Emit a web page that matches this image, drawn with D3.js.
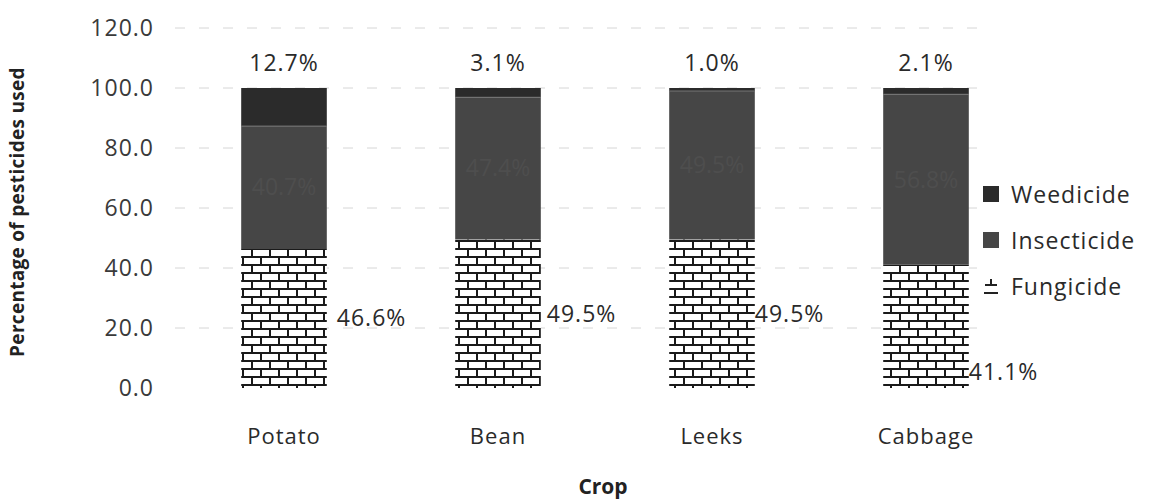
<!DOCTYPE html>
<html>
<head>
<meta charset="utf-8">
<script src="https://cdn.jsdelivr.net/npm/d3@7"></script>
<style>
  body { margin: 0; background: #fff; }
  text { font-family: "Open Sans", "Noto Sans", sans-serif; }
</style>
</head>
<body>
<div id="chart"></div>
<script>
// data
var crops = ["Potato", "Bean", "Leeks", "Cabbage"];
var fungicide = [46.6, 49.5, 49.5, 41.1];
var insecticide = [40.7, 47.4, 49.5, 56.8];
var weedicide = [12.7, 3.1, 1.0, 2.1];
var yTicks = [0, 20, 40, 60, 80, 100, 120];
var seriesNames = ["Fungicide", "Insecticide", "Weedicide"];

var svgWidth = 1157;
var svgHeight = 502;

var svg = d3.select("#chart")
  .append("svg")
  .attr("width", svgWidth)
  .attr("height", svgHeight);

var defs = svg.append("defs");

// brick pattern for fungicide
var brick = defs.append("pattern")
  .attr("id", "brick")
  .attr("patternUnits", "userSpaceOnUse")
  .attr("width", 36)
  .attr("height", 16);
brick.append("rect").attr("width", 36).attr("height", 16).attr("fill", "#fff");
brick.append("path")
  .attr("d", "M0,1 H36 M0,9 H36 M9,1 V9 M27,1 V9 M0,9 V17 M18,9 V17 M36,9 V17")
  .attr("stroke", "#1a1a1a")
  .attr("stroke-width", 2)
  .attr("fill", "none");

var x = d3.scaleBand()
  .domain(crops)
  .range([177, 1033])
  .paddingInner(0.6)
  .paddingOuter(0.3);

var y = d3.scaleLinear()
  .domain([0, 120])
  .range([388, 28]);

// faint gridlines
svg.append("g")
  .selectAll("line")
  .data(yTicks.slice(1))
  .enter()
  .append("line")
  .attr("x1", 175)
  .attr("x2", 980)
  .attr("y1", d => y(d))
  .attr("y2", d => y(d))
  .attr("stroke", "#d6d6d6")
  .attr("stroke-dasharray", "10,14")
  .attr("stroke-width", 1);

// y axis, labels only
var leftAxis = d3.axisLeft(y)
  .tickValues(yTicks)
  .tickFormat(d3.format(".1f"))
  .tickSize(0)
  .tickPadding(0);

var yAxis = svg.append("g")
  .attr("transform", "translate(154,0)")
  .call(leftAxis);
yAxis.select(".domain").remove();
yAxis.selectAll("text")
  .attr("font-size", 23)
  .attr("fill", "#3a3a3a")
  .attr("letter-spacing", 1)
  .style("font-family", "'Open Sans', sans-serif");

// stacked data
var table = crops.map(function(c, i) {
  return { crop: c, Fungicide: fungicide[i], Insecticide: insecticide[i], Weedicide: weedicide[i] };
});
var stack = d3.stack().keys(seriesNames);
var layers = stack(table);

var fills = { Fungicide: "url(#brick)", Insecticide: "#464646", Weedicide: "#2b2b2b" };

var barGroup = svg.append("g");
barGroup.selectAll("g")
  .data(layers)
  .enter()
  .append("g")
  .attr("fill", d => fills[d.key])
  .selectAll("rect")
  .data(d => d)
  .enter()
  .append("rect")
  .attr("x", d => x(d.data.crop))
  .attr("y", d => y(d[1]))
  .attr("width", x.bandwidth())
  .attr("height", d => y(d[0]) - y(d[1]));

// a faint light seam between insecticide and weedicide
barGroup.selectAll(".seam")
  .data(layers[1])
  .enter()
  .append("line")
  .attr("x1", d => x(d.data.crop))
  .attr("x2", d => x(d.data.crop) + x.bandwidth())
  .attr("y1", d => y(d[1]))
  .attr("y2", d => y(d[1]))
  .attr("stroke", "#777")
  .attr("stroke-width", 1);

var pct = d => d3.format(".1f")(d) + "%";

// weedicide labels above the bars
svg.append("g")
  .selectAll("text")
  .data(layers[2])
  .enter()
  .append("text")
  .attr("x", d => x(d.data.crop) + x.bandwidth() / 2)
  .attr("y", y(100) - 17)
  .attr("text-anchor", "middle")
  .attr("font-size", 23)
  .attr("letter-spacing", 1)
  .attr("fill", "#2a2a2a")
  .text(d => pct(d.data.Weedicide));

// insecticide labels, dark on dark as in the scan
svg.append("g")
  .selectAll("text")
  .data(layers[1])
  .enter()
  .append("text")
  .attr("x", d => x(d.data.crop) + x.bandwidth() / 2)
  .attr("y", d => y((d[0] + d[1]) / 2) + 8)
  .attr("text-anchor", "middle")
  .attr("font-size", 23)
  .attr("fill", "#4e4e4e")
  .text(d => pct(d.data.Insecticide));

// fungicide labels right of the bars
var nudge = { Potato: 0, Bean: 0, Leeks: 0, Cabbage: 46 };
var shiftX = { Potato: 10, Bean: 6, Leeks: 0, Cabbage: 0 };
svg.append("g")
  .selectAll("text")
  .data(layers[0])
  .enter()
  .append("text")
  .attr("x", d => x(d.data.crop) + x.bandwidth() + shiftX[d.data.crop])
  .attr("y", d => y((d[0] + d[1]) / 2) + 8 + nudge[d.data.crop])
  .attr("font-size", 23)
  .attr("letter-spacing", 1)
  .attr("fill", "#2a2a2a")
  .text(d => pct(d.data.Fungicide));

// crop names
svg.append("g")
  .selectAll("text")
  .data(crops)
  .enter()
  .append("text")
  .attr("x", d => x(d) + x.bandwidth() / 2)
  .attr("y", 444)
  .attr("text-anchor", "middle")
  .attr("font-size", 22)
  .attr("letter-spacing", 1)
  .attr("fill", "#2a2a2a")
  .text(d => d);

// axis titles
svg.append("text")
  .attr("x", 603)
  .attr("y", 494)
  .attr("text-anchor", "middle")
  .attr("font-size", 21)
  .attr("font-weight", "bold")
  .attr("fill", "#222")
  .text("Crop");

svg.append("text")
  .attr("transform", "translate(24,212) rotate(-90)")
  .attr("text-anchor", "middle")
  .attr("font-size", 19)
  .attr("font-weight", "bold")
  .attr("letter-spacing", 0.3)
  .attr("fill", "#222")
  .text("Percentage of pesticides used");

// legend, top item first
var legendItems = seriesNames.slice().reverse();
var legend = svg.append("g")
  .attr("transform", "translate(983,194)");

var item = legend.selectAll("g")
  .data(legendItems)
  .enter()
  .append("g")
  .attr("transform", (d, i) => `translate(0, ${i * 46})`);

item.append("rect")
  .attr("x", 0)
  .attr("y", -8)
  .attr("width", 16)
  .attr("height", 16)
  .attr("fill", d => d === "Fungicide" ? "#fff" : fills[d]);

item.filter(d => d === "Fungicide")
  .append("path")
  .attr("d", "M2,-1 H14 M8,-7 V-1 M1,7 H15")
  .attr("stroke", "#222")
  .attr("stroke-width", 2)
  .attr("fill", "none");

item.append("text")
  .attr("x", 28)
  .attr("y", 9)
  .attr("font-size", 23)
  .attr("letter-spacing", 1)
  .attr("fill", "#2a2a2a")
  .text(d => d);
</script>
</body>
</html>
